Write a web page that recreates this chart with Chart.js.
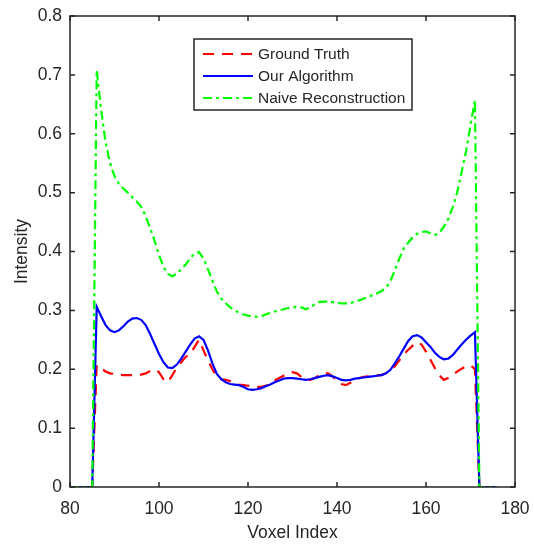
<!DOCTYPE html>
<html>
<head>
<meta charset="utf-8">
<script src="https://cdn.jsdelivr.net/npm/chart.js@4/dist/chart.umd.min.js"></script>
<style>
  html, body { margin: 0; padding: 0; background: #fff; }
  #wrap { width: 534px; height: 544px; }
</style>
</head>
<body>
<div id="wrap"><canvas id="chart" width="534" height="544"></canvas></div>
<script>
// voxel index 80..176
const voxels = []
for (let v = 80; v <= 176; v++) voxels.push(v)

const groundTruth = [
  0, 0, 0, 0, 0, 0,
  0.207, 0.202, 0.196, 0.193, 0.192, 0.191, 0.190, 0.190, 0.190, 0.190,
  0.191, 0.193, 0.197, 0.200, 0.195, 0.183, 0.178, 0.190, 0.203, 0.212,
  0.221, 0.225, 0.238, 0.250, 0.232, 0.215, 0.200, 0.188, 0.183, 0.182,
  0.180, 0.177, 0.174, 0.173, 0.172, 0.171, 0.170, 0.170, 0.172, 0.176,
  0.181, 0.185, 0.189, 0.193, 0.195, 0.193, 0.187, 0.182, 0.182, 0.185,
  0.190, 0.193, 0.193, 0.188, 0.180, 0.175, 0.173, 0.177, 0.182, 0.185,
  0.187, 0.188, 0.189, 0.190, 0.190, 0.193, 0.198, 0.205, 0.215, 0.225,
  0.233, 0.240, 0.246, 0.242, 0.230, 0.216, 0.202, 0.190, 0.182, 0.185,
  0.190, 0.196, 0.201, 0.205, 0.207, 0.200,
  0, 0, 0, 0, 0
]

const ourAlgorithm = [
  0, 0, 0, 0, 0, 0,
  0.306, 0.290, 0.275, 0.266, 0.263, 0.266, 0.273, 0.281, 0.286, 0.287,
  0.284, 0.275, 0.260, 0.243, 0.226, 0.212, 0.203, 0.202, 0.208, 0.218,
  0.230, 0.242, 0.252, 0.256, 0.250, 0.232, 0.210, 0.192, 0.183, 0.178,
  0.175, 0.174, 0.173, 0.170, 0.166, 0.165, 0.166, 0.168, 0.171, 0.174,
  0.178, 0.181, 0.184, 0.185, 0.185, 0.184, 0.183, 0.182, 0.183, 0.185,
  0.187, 0.189, 0.190, 0.188, 0.185, 0.182, 0.181, 0.182, 0.184, 0.185,
  0.186, 0.187, 0.188, 0.189, 0.190, 0.193, 0.199, 0.210, 0.222, 0.235,
  0.248, 0.256, 0.258, 0.254, 0.246, 0.238, 0.228, 0.221, 0.217, 0.218,
  0.224, 0.233, 0.242, 0.250, 0.257, 0.263,
  0, 0, 0, 0, 0
]

const naive = [
  0, 0, 0, 0, 0, 0,
  0.708, 0.640, 0.585, 0.550, 0.528, 0.515, 0.507, 0.500, 0.492, 0.485,
  0.476, 0.460, 0.440, 0.418, 0.394, 0.374, 0.362, 0.358, 0.362, 0.370,
  0.378, 0.388, 0.397, 0.399, 0.388, 0.370, 0.350, 0.332, 0.320, 0.312,
  0.305, 0.300, 0.296, 0.293, 0.291, 0.290, 0.289, 0.290, 0.293, 0.296,
  0.298, 0.300, 0.302, 0.304, 0.305, 0.306, 0.305, 0.302, 0.305, 0.310,
  0.314, 0.315, 0.315, 0.314, 0.313, 0.312, 0.312, 0.312, 0.315, 0.317,
  0.320, 0.323, 0.326, 0.329, 0.333, 0.338, 0.350, 0.368, 0.388, 0.405,
  0.415, 0.424, 0.430, 0.433, 0.434, 0.431, 0.428, 0.432, 0.442, 0.455,
  0.475, 0.500, 0.535, 0.570, 0.615, 0.657,
  0, 0, 0, 0, 0
]

const xTicks = [80, 100, 120, 140, 160, 180]
const yTicks = [0, 0.1, 0.2, 0.3, 0.4, 0.5, 0.6, 0.7, 0.8]

const toPoints = ys => voxels.map((x, i) => ({x: x, y: ys[i]}))

const textColor = '#262626'
const tickFont = {family: 'Liberation Sans, Arial, sans-serif', size: 17.5}

// MATLAB-like box, inward ticks and legend
const boxPlugin = {
  id: 'matlabBox',
  afterDraw(chart) {
    const {ctx, chartArea: a, scales} = chart
    ctx.save()
    ctx.strokeStyle = textColor
    ctx.lineWidth = 1.5
    ctx.setLineDash([])
    ctx.strokeRect(a.left, a.top, a.right - a.left, a.bottom - a.top)
    const len = 5
    ctx.beginPath()
    xTicks.forEach(v => {
      const px = scales.x.getPixelForValue(v)
      ctx.moveTo(px, a.bottom); ctx.lineTo(px, a.bottom - len)
      ctx.moveTo(px, a.top); ctx.lineTo(px, a.top + len)
    })
    yTicks.forEach(v => {
      const py = scales.y.getPixelForValue(v)
      ctx.moveTo(a.left, py); ctx.lineTo(a.left + len, py)
      ctx.moveTo(a.right, py); ctx.lineTo(a.right - len, py)
    })
    ctx.stroke()

    // legend
    const lx = a.left + 124, ly = a.top + 23, lw = 218, lh = 71
    ctx.fillStyle = '#fff'
    ctx.fillRect(lx, ly, lw, lh)
    ctx.lineWidth = 1.5
    ctx.strokeRect(lx, ly, lw, lh)
    ctx.font = '15.5px Liberation Sans, Arial, sans-serif'
    ctx.textBaseline = 'middle'
    chart.data.datasets.forEach((ds, i) => {
      const ry = ly + 15 + i * 22
      ctx.strokeStyle = ds.borderColor
      ctx.lineWidth = ds.borderWidth
      ctx.setLineDash(ds.borderDash || [])
      ctx.beginPath()
      ctx.moveTo(lx + 9, ry); ctx.lineTo(lx + 59, ry)
      ctx.stroke()
      ctx.fillStyle = textColor
      ctx.fillText(ds.label, lx + 64, ry + 1)
    })
    ctx.restore()
  }
}

new Chart(document.getElementById('chart'), {
  type: 'line',
  data: {
    datasets: [
      {label: 'Ground Truth', data: toPoints(groundTruth), borderColor: '#ff0000',
        borderWidth: 2.2, borderDash: [11, 8], order: 3},
      {label: 'Our Algorithm', data: toPoints(ourAlgorithm), borderColor: '#0000ff',
        borderWidth: 2.2, order: 2},
      {label: 'Naive Reconstruction', data: toPoints(naive), borderColor: '#00ff00',
        borderWidth: 2.2, borderDash: [9, 4, 3, 4], order: 1}
    ]
  },
  options: {
    responsive: false,
    animation: false,
    layout: {padding: {top: 16, right: 19, left: 0, bottom: 0}},
    elements: {point: {radius: 0}, line: {tension: 0, fill: false}},
    plugins: {legend: {display: false}, tooltip: {enabled: false}},
    scales: {
      x: {
        type: 'linear', min: 80, max: 180,
        afterFit(s) { s.height = 57; s.paddingLeft = 0; s.paddingRight = 0 },
        afterBuildTicks(s) { s.ticks = xTicks.map(v => ({value: v})) },
        grid: {display: false, drawTicks: false},
        border: {display: false},
        ticks: {color: textColor, font: tickFont, padding: 12, maxRotation: 0},
        title: {display: true, text: 'Voxel Index', color: textColor, font: tickFont,
          padding: {top: 0, bottom: 0}}
      },
      y: {
        min: 0, max: 0.8,
        afterFit(s) { s.width = 70; s.paddingTop = 0; s.paddingBottom = 0 },
        afterBuildTicks(s) { s.ticks = yTicks.map(v => ({value: v})) },
        grid: {display: false, drawTicks: false},
        border: {display: false},
        ticks: {color: textColor, font: tickFont, padding: 8,
          callback: v => String(+v.toFixed(1))},
        title: {display: true, text: 'Intensity', color: textColor, font: tickFont,
          padding: {top: 12, bottom: 0}}
      }
    }
  },
  plugins: [boxPlugin]
})
</script>
</body>
</html>
